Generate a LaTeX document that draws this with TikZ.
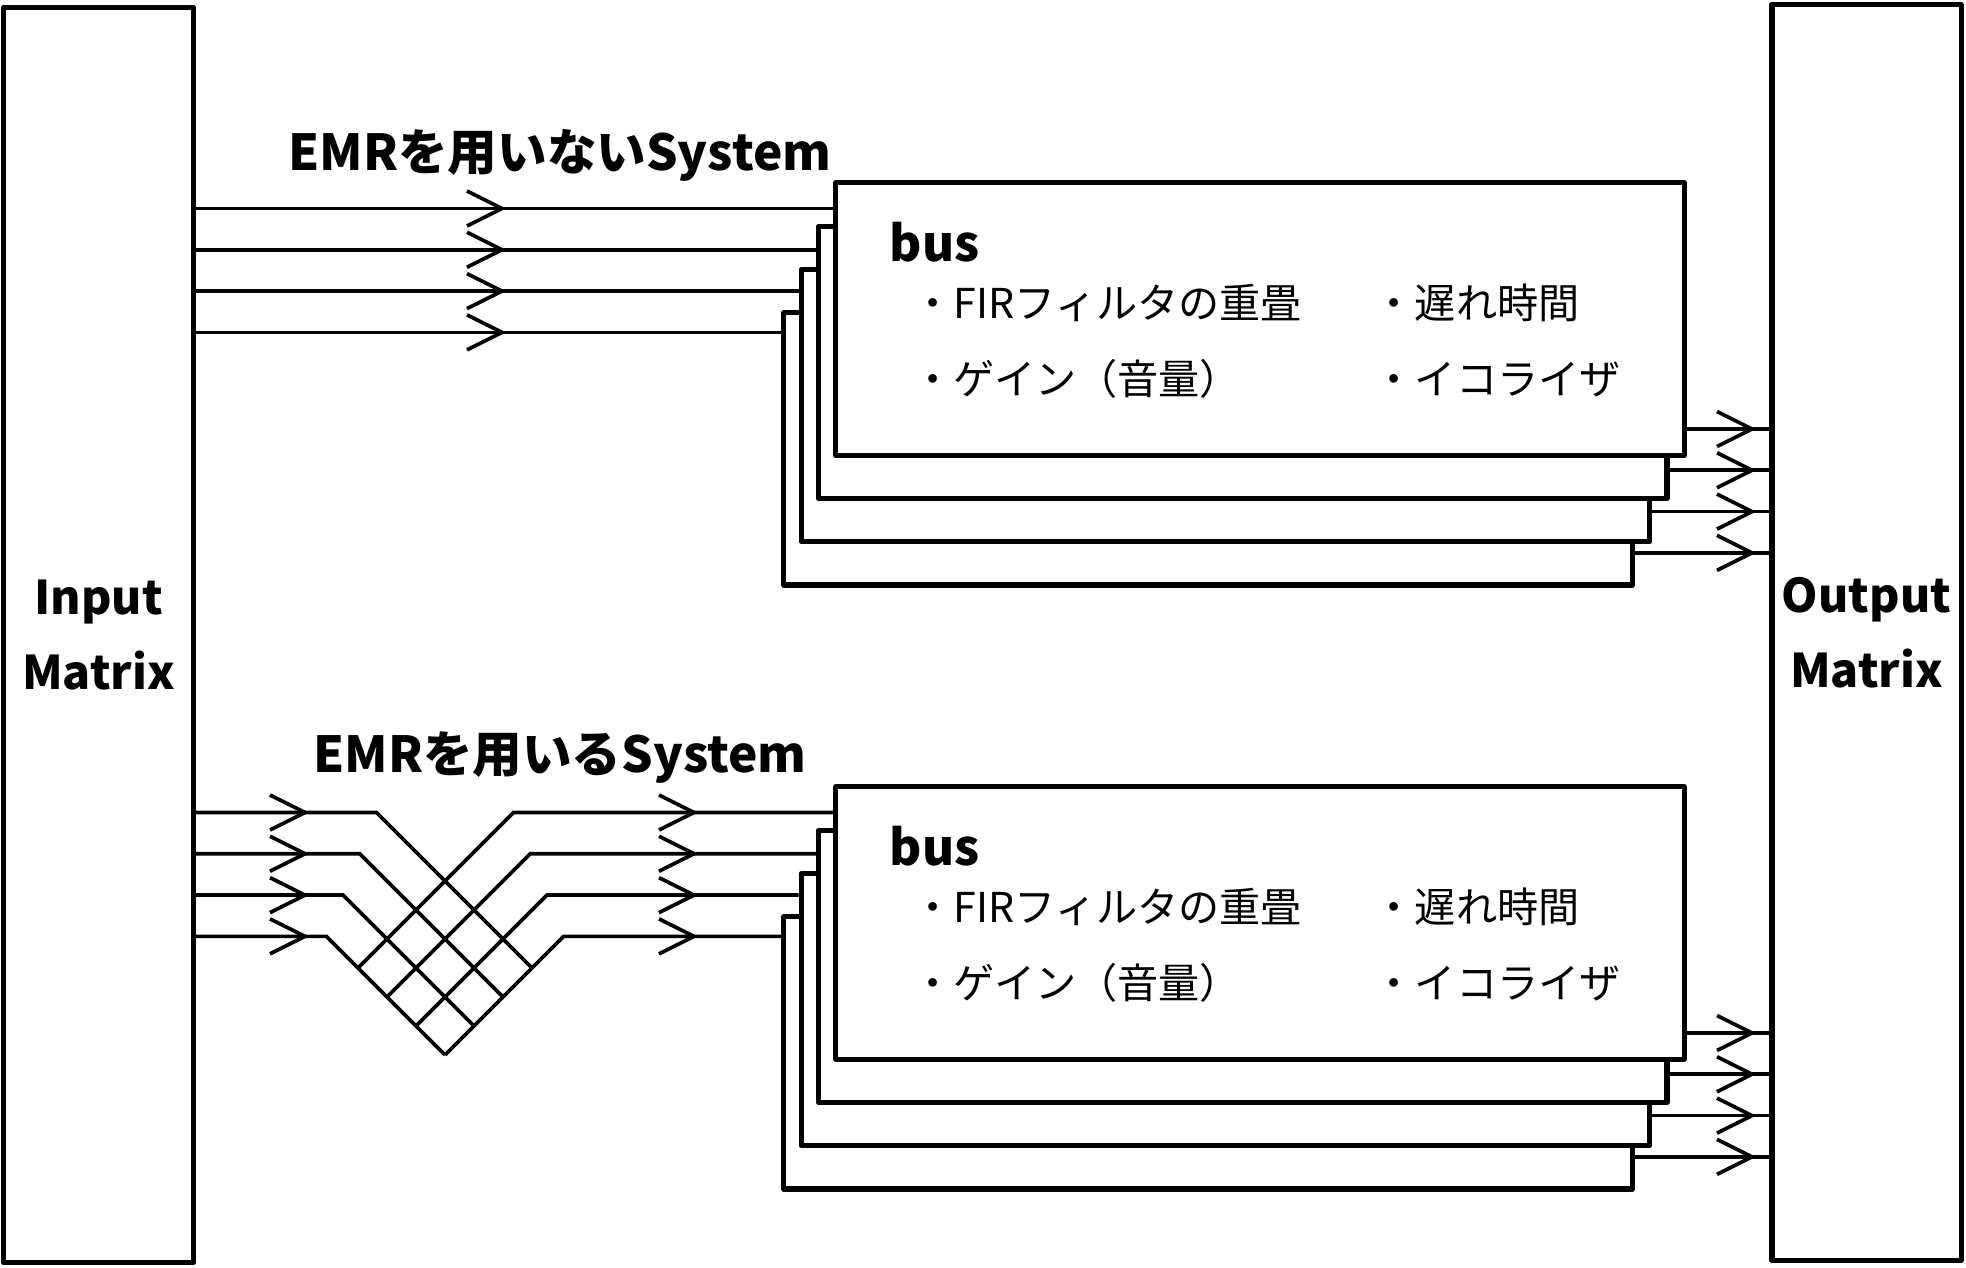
\documentclass[tikz,border=0pt]{standalone}
\usepackage{fontspec}
\setmainfont{Noto Sans CJK JP}
\tikzset{
  wire/.style={line width=1.05pt},
  matbox/.style={draw, line width=1.45pt, line join=round, minimum width=1.89cm, minimum height=12.55cm,
    inner sep=0pt, align=center, font=\bfseries\fontsize{13.2}{21.3}\selectfont},
  busbox/.style={draw, fill=white, line width=1.45pt, line join=round, minimum width=8.48cm,
    minimum height=2.72cm, inner sep=0pt},
  ttl/.style={inner sep=0pt, anchor=base, font=\bfseries\fontsize{14.1}{17}\selectfont},
  bustxt/.style={inner sep=0pt, anchor=base west, font=\bfseries\fontsize{14}{17}\selectfont},
  itm/.style={inner sep=0pt, anchor=base west, font=\fontsize{11.7}{14}\selectfont},
  chev/.pic={\draw[wire] (-35,17.5) -- (0,0) -- (-35,-17.5);}
}
\begin{document}
\begin{tikzpicture}[x=0.01cm, y=-0.01cm]
\useasboundingbox (0,0) rectangle (1966,1268);
\node[matbox] (in) at (98.5,635) {Input\\Matrix};
\node[matbox] (out) at (1866.5,632.5) {Output\\Matrix};

% titles of the two systems
\node[ttl] (t1) at (560,171) {EMRを用いないSystem};
\node[ttl] (t2) at (560,773) {EMRを用いるSystem};

% stacks of buses, upper (u) and lower (l)
\foreach \s/\oy in {u/0, l/604} {
  \foreach \i in {4,3,2,1}
    \node[busbox] (bus\s\i) at ({1260-17.3*(\i-1)},{319+43.3*(\i-1)+\oy}) {};
  \node[bustxt] (lbl\s) at (889,{262+\oy}) {bus};
  \node[itm] (fir\s) at (912,{319+\oy}) {・FIRフィルタの重畳};
  \node[itm] (dly\s) at (1373,{319+\oy}) {・遅れ時間};
  \node[itm] (gain\s) at (912,{395+\oy}) {・ゲイン（音量）};
  \node[itm] (eq\s) at (1373,{395+\oy}) {・イコライザ};
  \foreach \i in {1,...,4} {
    \pgfmathsetmacro\yo{429+41.3*(\i-1)+\oy}
    \draw[wire] (bus\s\i.east |- 0,\yo) -- (out.west |- 0,\yo);
    \pic at (1752,\yo) {chev};
  }
}

% inputs without EMR
\foreach \i in {1,...,4} {
  \pgfmathsetmacro\yi{208.5+41.3*(\i-1)}
  \draw[wire] (in.east |- 0,\yi) -- (busu\i.west |- 0,\yi);
  \pic at (502,\yi) {chev};
}

% inputs with EMR: crossing lattice
\foreach \i in {1,...,4} {
  \pgfmathsetmacro\yi{812.5+41.3*(\i-1)}
  \pgfmathsetmacro\lcut{436+58*(\i-1)}
  \pgfmathsetmacro\rcut{1326+58*(\i-1)}
  \draw[wire] (in.east |- 0,\yi) -- ({\yi-\lcut},\yi) -- ({(1500-\lcut)/2},{(1500+\lcut)/2});
  \draw[wire] ({(\rcut-610)/2},{(\rcut+610)/2}) -- ({\rcut-\yi},\yi) -- (busl\i.west |- 0,\yi);
  \pic at (305,\yi) {chev};
  \pic at (694,\yi) {chev};
}
\end{tikzpicture}
\end{document}
